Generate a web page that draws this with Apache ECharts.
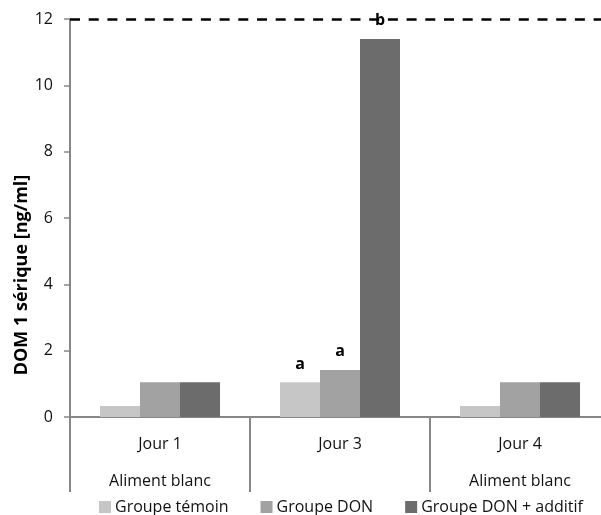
<!DOCTYPE html>
<html>
<head>
<meta charset="utf-8">
<script src="https://cdn.jsdelivr.net/npm/echarts@6/dist/echarts.min.js"></script>
<style>html,body{margin:0;padding:0;background:#fff}#c{width:601px;height:515px}</style>
</head>
<body>
<div id="c"></div>
<script>
const days = ['Jour 1', 'Jour 3', 'Jour 4'];
const feeds = ['Aliment blanc', '', 'Aliment blanc'];
const seriesNames = ['Groupe témoin', 'Groupe DON', 'Groupe DON + additif'];
const temoin = [0.33, 1.05, 0.33];
const don = [1.05, 1.42, 1.05];
const donAdditif = [1.05, 11.4, 1.05];
const temoinLetters = ['', 'a', ''];
const donLetters = ['', 'a', ''];
const donAdditifLetters = ['', 'b', ''];
const yTicks = [0, 2, 4, 6, 8, 10, 12];
const limitValue = 12;
const yTitle = 'DOM 1 sérique [ng/ml]';

const colors = ['#C6C6C6', '#A2A2A2', '#6C6C6C'];
const FONT = 'Open Sans';

function mkSeries(name, values, letters, color, withLine) {
  const s = {
    name: name,
    type: 'bar',
    barWidth: 40,
    barGap: '0%',
    itemStyle: { color: color },
    data: values.map((v, i) => ({ value: v, label: { show: !!letters[i], formatter: letters[i] } })),
    label: {
      position: 'top', distance: 10,
      fontFamily: FONT, fontSize: 16, fontWeight: 'bold', color: '#000'
    }
  };
  if (withLine) {
    s.markLine = {
      silent: true, symbol: 'none', label: { show: false },
      lineStyle: { color: '#000', width: 2.6, type: [10, 8.7] },
      data: [{ yAxis: limitValue }]
    };
  }
  return s;
}

const chart = echarts.init(document.getElementById('c'));
chart.setOption({
  animation: false,
  backgroundColor: '#fff',
  grid: { left: 70, width: 540, top: 19, height: 398, outerBoundsMode: 'none', containLabel: false },
  legend: {
    data: seriesNames,
    left: 94, top: 494,
    icon: 'rect', itemWidth: 12, itemHeight: 12, itemGap: 32,
    textStyle: { fontFamily: FONT, fontSize: 16, color: '#111', padding: [0, 0, 0, -1] }
  },
  xAxis: {
    type: 'category',
    data: days,
    axisLine: { lineStyle: { color: '#878787', width: 2 } },
    axisTick: { show: true, length: 75, lineStyle: { color: '#878787', width: 2 } },
    axisLabel: {
      margin: 9, fontFamily: FONT, fontSize: 16, color: '#111', lineHeight: 37,
      formatter: (v, i) => v + '\n' + (feeds[i] || ' ')
    }
  },
  yAxis: {
    type: 'value',
    min: yTicks[0], max: yTicks[yTicks.length - 1], interval: yTicks[1] - yTicks[0],
    axisLine: { show: true, lineStyle: { color: '#878787', width: 2 } },
    axisTick: { show: true, length: 6, lineStyle: { color: '#878787', width: 1.5 } },
    splitLine: { show: false },
    axisLabel: { margin: 17, fontFamily: FONT, fontSize: 16, color: '#111' }
  },
  graphic: [{
    type: 'text',
    x: 22, y: 275,
    rotation: Math.PI / 2,
    style: {
      text: yTitle, fontFamily: FONT, fontSize: 18, fontWeight: 'bold', fill: '#000',
      align: 'center', verticalAlign: 'middle'
    }
  }],
  series: [
    mkSeries(seriesNames[0], temoin, temoinLetters, colors[0], false),
    mkSeries(seriesNames[1], don, donLetters, colors[1], false),
    mkSeries(seriesNames[2], donAdditif, donAdditifLetters, colors[2], true)
  ]
});
</script>
</body>
</html>
